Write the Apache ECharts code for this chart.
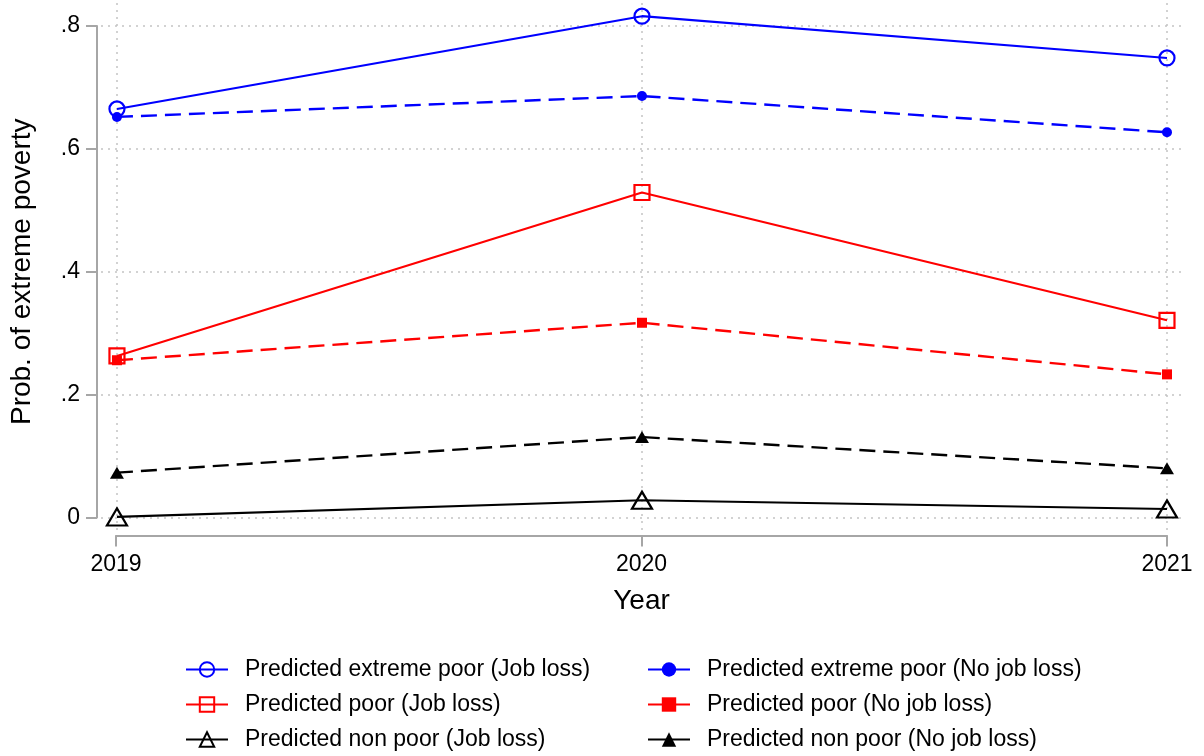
<!DOCTYPE html>
<html>
<head>
<meta charset="utf-8">
<script src="https://cdn.jsdelivr.net/npm/echarts@6/dist/echarts.min.js"></script>
<style>
html,body{margin:0;padding:0;background:#fff;}
#chart{width:1204px;height:756px;}
</style>
</head>
<body>
<div id="chart"></div>
<script>
const years = [2019, 2020, 2021];
const yTicks = [0, 0.2, 0.4, 0.6, 0.8];
const yTickLabels = ['0', '.2', '.4', '.6', '.8'];
const xTickLabels = ['2019', '2020', '2021'];

const seriesNames = [
  'Predicted extreme poor (Job loss)',
  'Predicted extreme poor (No job loss)',
  'Predicted poor (Job loss)',
  'Predicted poor (No job loss)',
  'Predicted non poor (Job loss)',
  'Predicted non poor (No job loss)'
];
const extremeJobLoss   = [0.665, 0.816, 0.748];
const extremeNoJobLoss = [0.652, 0.686, 0.627];
const poorJobLoss      = [0.263, 0.529, 0.321];
const poorNoJobLoss    = [0.256, 0.317, 0.233];
const nonPoorJobLoss   = [0.001, 0.028, 0.014];
const nonPoorNoJobLoss = [0.073, 0.131, 0.080];

const FONT = '"Liberation Sans", Arial, Helvetica, sans-serif';
const BLUE = '#0000ff', RED = '#ff0000', BLACK = '#000000';
const AXIS_GRAY = '#a6a6a6';
const GRID_GRAY = '#c4c4c4';

function pairs(vals) { return years.map((y, i) => [y, vals[i]]); }

function mkSeries(name, vals, color, dashed, symbol, size, hollow) {
  return {
    name: name,
    type: 'line',
    xAxisIndex: 0, yAxisIndex: 0,
    data: pairs(vals),
    symbol: symbol,
    symbolSize: size,
    showSymbol: true,
    clip: false,
    lineStyle: { color: color, width: dashed ? 2.4 : 2.1, type: dashed ? [16, 8] : 'solid' },
    itemStyle: hollow
      ? { color: 'rgba(0,0,0,0)', borderColor: color, borderWidth: 2.2 }
      : { color: color, borderWidth: 0 },
    emphasis: { disabled: true },
    animation: false,
    z: 5
  };
}

const chart = echarts.init(document.getElementById('chart'), null, { renderer: 'canvas' });

const gridMarkData = yTicks.map(v => ({ yAxis: v })).concat(years.map(y => ({ xAxis: y })));

const legendCommon = {
  orient: 'vertical', top: 658, padding: 0,
  itemWidth: 42, itemHeight: 18, itemGap: 12,
  textStyle: { fontSize: 23, lineHeight: 23, color: '#000', fontFamily: FONT, padding: [0, 0, 0, 12] },
  lineStyle: { type: 'solid', width: 2 },
  selectedMode: false
};

const option = {
  backgroundColor: '#ffffff',
  animation: false,
  textStyle: { fontFamily: FONT },
  grid: [
    { left: 101, right: 19, top: 0, bottom: 226, containLabel: false },
    { left: 116, right: 37, top: 26, bottom: 238.5, containLabel: false }
  ],
  xAxis: [
    { type: 'value', gridIndex: 0, min: 2018.9696, max: 2021.0343, show: false },
    {
      type: 'value', gridIndex: 1, min: 2019, max: 2021, interval: 1,
      position: 'bottom', offset: 18,
      axisLine: { show: true, onZero: false, lineStyle: { color: AXIS_GRAY, width: 2 } },
      axisTick: { show: true, length: 11, lineStyle: { color: AXIS_GRAY, width: 2 } },
      splitLine: { show: false },
      axisLabel: {
        show: true, margin: 18, fontSize: 23, color: '#000', fontFamily: FONT,
        formatter: (v) => xTickLabels[years.indexOf(Math.round(v))] || ''
      },
      name: 'Year', nameLocation: 'middle', nameGap: 52,
      nameTextStyle: { fontSize: 28, color: '#000', fontFamily: FONT }
    }
  ],
  yAxis: [
    { type: 'value', gridIndex: 0, min: -0.0203, max: 0.8423, show: false },
    {
      type: 'value', gridIndex: 1, min: 0, max: 0.8, interval: 0.2,
      position: 'left', offset: 19,
      axisLine: { show: true, onZero: false, lineStyle: { color: AXIS_GRAY, width: 2 } },
      axisTick: { show: true, length: 11, lineStyle: { color: AXIS_GRAY, width: 2 } },
      splitLine: { show: false },
      axisLabel: {
        show: true, margin: 17, fontSize: 23, color: '#000', fontFamily: FONT,
        formatter: (v, i) => yTickLabels[i]
      },
      name: 'Prob. of extreme poverty', nameLocation: 'middle', nameGap: 61,
      nameTextStyle: { fontSize: 28, color: '#000', fontFamily: FONT }
    }
  ],
  legend: [
    Object.assign({}, legendCommon, { left: 185, data: [seriesNames[0], seriesNames[2], seriesNames[4]] }),
    Object.assign({}, legendCommon, { left: 647, data: [seriesNames[1], seriesNames[3], seriesNames[5]] })
  ],
  series: [
    {
      name: 'gridlines', type: 'line', xAxisIndex: 0, yAxisIndex: 0, data: [],
      silent: true, z: 1,
      markLine: {
        silent: true, symbol: ['none', 'none'], label: { show: false },
        lineStyle: { color: GRID_GRAY, width: 1.5, type: [2, 5] },
        emphasis: { disabled: true },
        animation: false,
        data: gridMarkData
      }
    },
    mkSeries(seriesNames[0], extremeJobLoss, BLUE, false, 'circle', 15, true),
    mkSeries(seriesNames[2], poorJobLoss, RED, false, 'rect', 15, true),
    mkSeries(seriesNames[4], nonPoorJobLoss, BLACK, false, 'triangle', [20, 17], true),
    mkSeries(seriesNames[1], extremeNoJobLoss, BLUE, true, 'circle', 10, false),
    mkSeries(seriesNames[3], poorNoJobLoss, RED, true, 'rect', 10, false),
    mkSeries(seriesNames[5], nonPoorNoJobLoss, BLACK, true, 'triangle', [14, 12], false)
  ]
};
chart.setOption(option);
</script>
</body>
</html>
